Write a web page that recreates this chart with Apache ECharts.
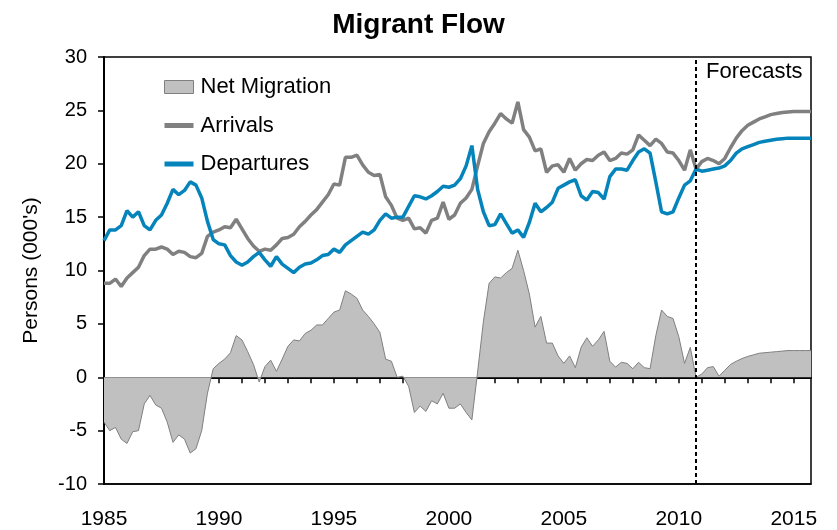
<!DOCTYPE html>
<html>

<head>
    <meta charset="utf-8">
    <title>Migrant Flow</title>
    <script src="https://cdn.jsdelivr.net/npm/echarts@6/dist/echarts.min.js"></script>
</head>

<body style="margin:0">
    <div id="main" style="width: 837px;height:530px;"></div>
    <script>
        // quarterly, 1985Q1 .. 2015Q4
        var years = [1985, 1986, 1987, 1988, 1989, 1990, 1991, 1992, 1993, 1994, 1995, 1996, 1997, 1998, 1999, 2000,
            2001, 2002, 2003, 2004, 2005, 2006, 2007, 2008, 2009, 2010, 2011, 2012, 2013, 2014, 2015];
        var quarters = [];
        years.forEach(function (y) {
            ['Q1', 'Q2', 'Q3', 'Q4'].forEach(function (q) { quarters.push(y + q); });
        });

        var forecastStart = '2010Q4';

        var arrivals = [
            8.8, 8.8, 9.2, 8.5, 9.3, 9.8, 10.3, 11.4, 12.0, 12.0, 12.2, 12.0, 11.5, 11.8, 11.7, 11.3,
            11.2, 11.6, 13.2, 13.6, 13.8, 14.1, 14.0, 14.8, 13.9, 13.0, 12.3, 11.8, 12.0, 11.9, 12.4, 13.0,
            13.1, 13.4, 14.1, 14.6, 15.2, 15.7, 16.4, 17.1, 18.1, 18.0, 20.6, 20.6, 20.8, 19.9, 19.2, 18.9,
            19.0, 16.9, 16.1, 14.9, 14.7, 14.9, 13.9, 14.0, 13.5, 14.7, 14.9, 16.4, 14.8, 15.2, 16.3, 16.8,
            17.6, 19.8, 21.9, 23.0, 23.8, 24.7, 24.2, 23.8, 25.8, 23.2, 22.5, 21.2, 21.4, 19.2, 19.8, 19.9,
            19.2, 20.5, 19.4, 20.0, 20.4, 20.3, 20.8, 21.1, 20.3, 20.5, 21.0, 20.9, 21.3, 22.7, 22.2, 21.7,
            22.3, 21.9, 21.1, 21.0, 20.3, 19.4, 21.3, 19.5, 20.2, 20.5, 20.3, 20.0, 20.5, 21.5, 22.4, 23.1,
            23.6, 23.9, 24.2, 24.4, 24.6, 24.7, 24.8, 24.85, 24.9, 24.9, 24.9, 24.9
        ];

        var departures = [
            12.8, 13.8, 13.8, 14.2, 15.6, 15.0, 15.5, 14.2, 13.8, 14.7, 15.2, 16.3, 17.6, 17.1, 17.5, 18.3,
            18.0, 16.8, 14.6, 12.9, 12.5, 12.4, 11.4, 10.8, 10.5, 10.8, 11.3, 11.7, 11.0, 10.4, 11.3, 10.6,
            10.2, 9.8, 10.3, 10.6, 10.7, 11.0, 11.4, 11.5, 12.0, 11.7, 12.4, 12.8, 13.2, 13.6, 13.4, 13.8,
            14.7, 15.3, 14.9, 15.0, 15.0, 16.0, 17.0, 16.9, 16.7, 17.0, 17.4, 17.9, 17.8, 18.0, 18.6, 19.8,
            21.7, 17.6, 15.5, 14.2, 14.3, 15.3, 14.4, 13.5, 13.8, 13.1, 14.5, 16.3, 15.5, 15.9, 16.4, 17.7,
            18.0, 18.3, 18.5, 17.0, 16.6, 17.4, 17.3, 16.7, 18.8, 19.5, 19.5, 19.4, 20.3, 21.1, 21.4, 21.0,
            18.3, 15.5, 15.3, 15.5, 16.8, 18.0, 18.4, 19.5, 19.3, 19.4, 19.5, 19.6, 19.8, 20.3, 21.0, 21.4,
            21.6, 21.8, 22.0, 22.1, 22.2, 22.3, 22.35, 22.4, 22.4, 22.4, 22.4, 22.4
        ];

        var netMigration = [
            -4.2, -5.0, -4.7, -5.8, -6.2, -5.1, -5.0, -2.5, -1.7, -2.6, -2.9, -4.2, -6.1, -5.4, -5.8, -7.1,
            -6.7, -5.0, -1.5, 0.8, 1.3, 1.7, 2.3, 3.9, 3.5, 2.4, 1.2, -0.45, 1.0, 1.6, 0.55, 1.7,
            2.9, 3.5, 3.4, 4.1, 4.4, 4.9, 4.9, 5.5, 6.1, 6.3, 8.1, 7.8, 7.4, 6.3, 5.7, 5.0,
            4.2, 1.7, 1.5, 0.0, 0.1, -0.85, -3.3, -2.7, -3.2, -2.2, -2.5, -1.5, -2.9, -2.9, -2.5, -3.3,
            -4.0, 0.5, 5.2, 8.8, 9.4, 9.3, 9.8, 10.2, 11.9, 10.0, 7.8, 4.7, 5.7, 3.2, 3.2, 2.0,
            1.3, 2.0, 0.9, 2.8, 3.7, 2.9, 3.5, 4.3, 1.5, 0.95, 1.4, 1.3, 0.8, 1.4, 0.9, 0.8,
            3.9, 6.3, 5.7, 5.5, 3.8, 1.3, 2.8, 0.0, 0.3, 0.9, 1.0, 0.1, 0.65, 1.2, 1.5, 1.75,
            1.95, 2.1, 2.25, 2.3, 2.35, 2.4, 2.45, 2.5, 2.5, 2.5, 2.5, 2.5
        ];

        var font = 'Liberation Sans, Arial, sans-serif';
        var lineIcon = 'path://M0,0H29V5H0Z';
        var myChart = echarts.init(document.getElementById('main'));

        var option = {
            backgroundColor: '#fff',
            animation: false,
            title: {
                text: 'Migrant Flow',
                left: 'center',
                top: 6,
                textStyle: { fontFamily: font, fontSize: 28, fontWeight: 'bold', color: '#000' }
            },
            legend: {
                orient: 'vertical',
                left: 159,
                top: 71,
                itemWidth: 29,
                itemHeight: 13,
                itemGap: 16.5,
                textStyle: { fontFamily: font, fontSize: 22, color: '#000', padding: [0, 0, 0, 2] },
                data: [
                    { name: 'Net Migration', icon: 'rect', itemStyle: { color: '#C0C0C0', borderColor: '#808080', borderWidth: 1 } },
                    { name: 'Arrivals', icon: lineIcon, itemStyle: { color: '#808080' } },
                    { name: 'Departures', icon: lineIcon, itemStyle: { color: '#0584BC' } }
                ]
            },
            grid: {
                left: 104, right: 26, top: 57, bottom: 46,
                show: true, borderColor: '#000', borderWidth: 1.5
            },
            graphic: [{
                type: 'text',
                left: 706,
                top: 61,
                style: { text: 'Forecasts', fontFamily: font, fontSize: 22, fill: '#000' }
            }],
            xAxis: [{
                type: 'category',
                data: quarters,
                boundaryGap: false,
                position: 'bottom',
                axisLine: { onZero: false, lineStyle: { color: '#000', width: 1.5 } },
                axisTick: { show: false },
                axisLabel: {
                    interval: 19, margin: 25,
                    fontFamily: font, fontSize: 21, color: '#000',
                    formatter: function (v) { return v.slice(0, 4); }
                },
                splitLine: { show: false }
            }, {
                type: 'category',
                data: quarters,
                boundaryGap: false,
                position: 'bottom',
                axisLine: { onZero: true, onZeroAxisIndex: 0, lineStyle: { color: '#000', width: 2 } },
                axisTick: { show: true, interval: 3, length: 6, inside: false, lineStyle: { color: '#000', width: 1.5 } },
                axisLabel: { show: false },
                splitLine: { show: false }
            }],
            yAxis: {
                type: 'value',
                min: -10, max: 30, interval: 5,
                name: "Persons (000's)",
                nameLocation: 'middle',
                nameGap: 62,
                nameTextStyle: { fontFamily: font, fontSize: 21, color: '#000' },
                axisLine: { show: true, lineStyle: { color: '#000', width: 2 } },
                axisTick: { show: true, length: 6, lineStyle: { color: '#000', width: 1.5 } },
                axisLabel: { margin: 17, fontFamily: font, fontSize: 20, color: '#000' },
                splitLine: { show: false }
            },
            series: [{
                name: 'Net Migration',
                type: 'line',
                data: netMigration,
                symbol: 'none',
                lineStyle: { color: '#808080', width: 1 },
                itemStyle: { color: '#808080' },
                areaStyle: { color: '#C0C0C0', opacity: 1 },
                markLine: {
                    silent: true,
                    symbol: 'none',
                    label: { show: false },
                    lineStyle: { color: '#000', width: 2, type: [4, 3] },
                    data: [{ xAxis: forecastStart }]
                }
            }, {
                name: 'Arrivals',
                type: 'line',
                data: arrivals,
                symbol: 'none',
                lineStyle: { color: '#808080', width: 3.5 },
                itemStyle: { color: '#808080' }
            }, {
                name: 'Departures',
                type: 'line',
                data: departures,
                symbol: 'none',
                lineStyle: { color: '#0584BC', width: 3.5 },
                itemStyle: { color: '#0584BC' }
            }]
        };

        myChart.setOption(option);
    </script>
</body>

</html>
